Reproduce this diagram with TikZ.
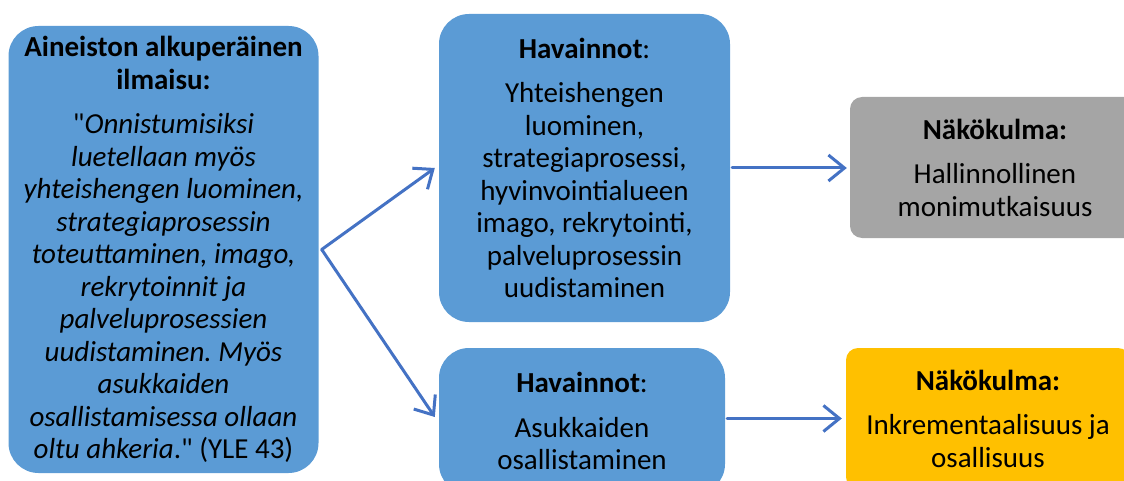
\documentclass[tikz,border=0pt]{standalone}
\usepackage{fontspec}
\setmainfont{Carlito}[Ligatures=TeXOff]
\frenchspacing
\usetikzlibrary{arrows.meta,calc,positioning}
\definecolor{boxblue}{HTML}{5B9BD5}
\definecolor{boxgray}{HTML}{A5A5A5}
\definecolor{boxgold}{HTML}{FFC000}
\definecolor{linkblue}{HTML}{4472C4}
\tikzset{
  bigbox/.style={rounded corners=30pt, inner sep=0pt, align=center,
    font=\fontsize{29}{32.5}\selectfont},
  viewbox/.style={bigbox, rounded corners=12pt},
  link/.style={draw=linkblue, line width=3pt,
    -{Straight Barb[length=16pt, width=26pt, line width=3pt]}},
  every picture/.style={line cap=round, line join=round}
}

\begin{document}
\begin{tikzpicture}[x=1pt, y=-1pt]
  \useasboundingbox (0,0) rectangle (1124,481);
  \clip (0,0) rectangle (1124,481);

  \node[bigbox, fill=boxblue, minimum width=310, minimum height=447] (src) at (163.5,249.5)
    {\textbf{Aineiston alkuperäinen}\\\textbf{ilmaisu:}\\[12pt]
     "\textit{Onnistumisiksi}\\\textit{luetellaan myös}\\\textit{yhteishengen luominen,}\\
     \textit{strategiaprosessin}\\\textit{toteuttaminen, imago,}\\\textit{rekrytoinnit ja}\\
     \textit{palveluprosessien}\\\textit{uudistaminen. Myös}\\\textit{asukkaiden}\\
     \textit{osallistamisessa ollaan}\\\textit{oltu ahkeria}." (YLE 43)};
  \node[bigbox, fill=boxblue, minimum width=291, minimum height=308] (obs1) at (584.5,168)
    {\textbf{Havainnot}:\\[12pt]
     Yhteishengen\\luominen,\\strategiaprosessi,\\hyvinvointialueen\\
     imago, rekrytointi,\\palveluprosessin\\uudistaminen};
  \node[bigbox, fill=boxblue, minimum width=286, minimum height=146] (obs2) at (582,421)
    {\textbf{Havainnot}:\\[12pt]Asukkaiden\\osallistaminen};
  \node[viewbox, fill=boxgray, minimum width=290, minimum height=141] (view1) at (995,167.5)
    {\textbf{Näkökulma:}\\[12pt]Hallinnollinen\\monimutkaisuus};
  \node[viewbox, fill=boxgold, minimum width=284, minimum height=141] (view2) at (988,418.5)
    {\textbf{Näkökulma:}\\[12pt]Inkrementaalisuus ja\\osallisuus};

  \coordinate (fork) at ([xshift=3pt]src.east);
  \draw[link] (fork) -- ([xshift=-4pt]obs1.west);
  \draw[link] (fork) -- ([xshift=-4pt,yshift=4pt]obs2.west);
  \draw[link, shorten <=2pt, shorten >=3pt] (obs1.east) -- (view1.west |- obs1.east);
  \draw[link, shorten <=2pt, shorten >=4pt] (obs2.east |- view2.west) -- (view2.west);
\end{tikzpicture}
\end{document}
